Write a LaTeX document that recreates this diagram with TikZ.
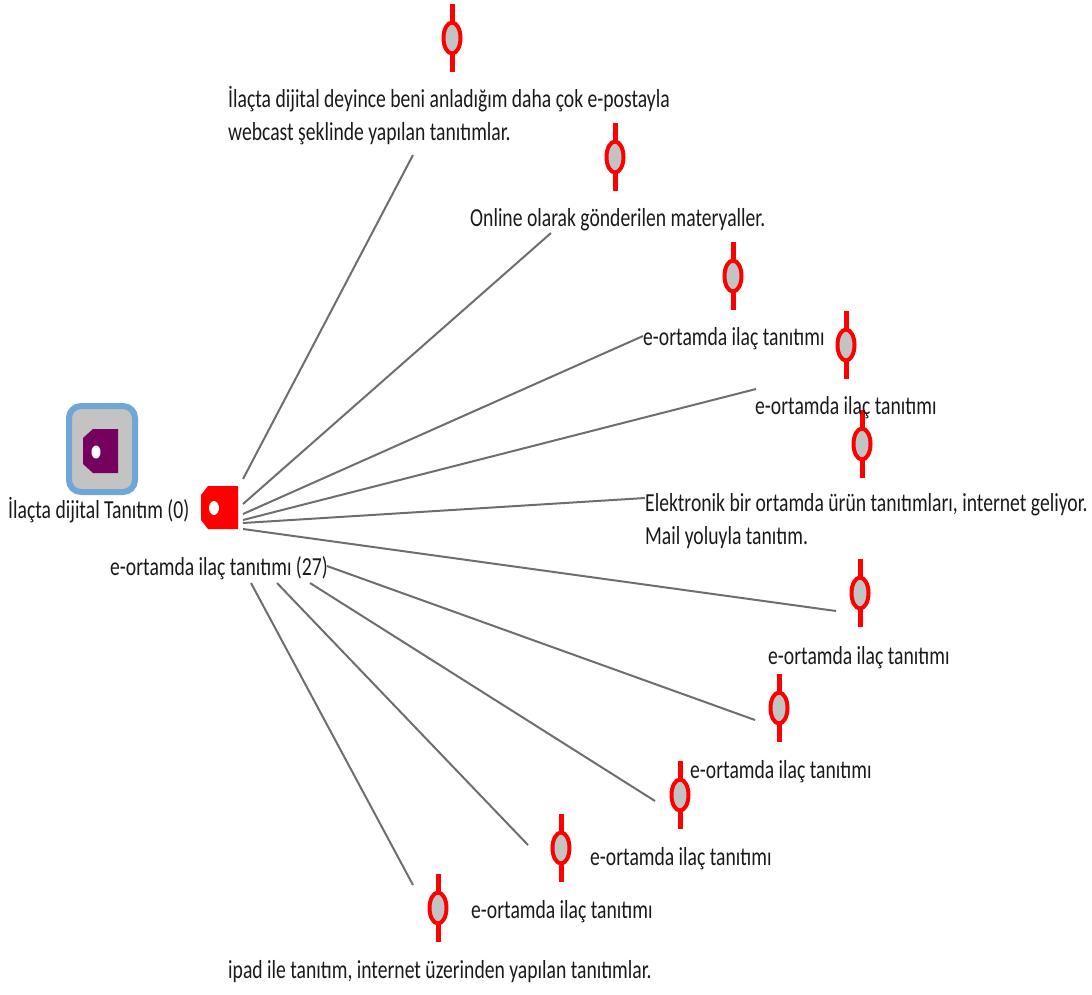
\documentclass[tikz,border=0pt]{standalone}
\usepackage{fontspec}
\setmainfont{Carlito}[FakeStretch=0.755]
\usetikzlibrary{shapes.geometric}
\definecolor{pinred}{HTML}{FF0000}
\definecolor{pingrey}{HTML}{C3C3C3}
\definecolor{linkgrey}{HTML}{6E6E6E}
\definecolor{framblue}{HTML}{6FA6D6}
\definecolor{tagpurple}{HTML}{76005E}
\definecolor{inkdark}{HTML}{1A1A1A}
\begin{document}
\begin{tikzpicture}[x=1pt,y=-1pt,
  lbl/.style={anchor=base west,inner sep=0pt,text=inkdark,
    font=\fontsize{26}{32.5}\selectfont,align=left},
  conn/.style={draw=linkgrey,line width=2pt},
  pinhead/.style={ellipse,draw=pinred,fill=pingrey,line width=4pt,
    minimum width=17pt,minimum height=31pt,inner sep=0pt},
  pinstem/.style={draw=pinred,line width=5pt}]
\useasboundingbox (0,0) rectangle (1092,994);

% connectors (drawn first so the hub label covers their ends)
\coordinate (s1) at (243,479);  \coordinate (e1) at (413,155);
\coordinate (s2) at (243,504);  \coordinate (e2) at (551,233);
\coordinate (s3) at (243,514);  \coordinate (e3) at (643,336);
\coordinate (s4) at (243,520);  \coordinate (e4) at (756,389);
\coordinate (s5) at (243,523);  \coordinate (e5) at (645,498);
\coordinate (s6) at (243,529);  \coordinate (e6) at (836,611);
\coordinate (s7) at (327,566);  \coordinate (e7) at (755,720);
\coordinate (s8) at (310,583);  \coordinate (e8) at (655,801);
\coordinate (s9) at (277,583);  \coordinate (e9) at (528,845);
\coordinate (s10) at (251,583); \coordinate (e10) at (413,885);
\foreach \i in {1,...,10} \draw[conn] (s\i) -- (e\i);

% category icon on the left
\node[draw=framblue,line width=6pt,fill=pingrey,rounded corners=12pt,
  minimum width=66pt,minimum height=86pt,inner sep=0pt] (cat) at (102,449) {};
\fill[tagpurple] (93,429) -- (118,429) -- (118,473) -- (93,473)
  -- (83,464) -- (83,438) -- cycle;
\fill[white] (96,452) ellipse [x radius=4.5pt,y radius=6.5pt];
\node[lbl] (catlbl) at (8,518) {İlaçta dijital Tanıtım (0)};

% hub tag
\node[inner sep=0pt,minimum width=37pt,minimum height=43pt] (hub) at (219.5,507.5) {};
\fill[pinred] (208,486) -- (238,486) -- (238,529) -- (208,529)
  -- (201,520) -- (201,495) -- cycle;
\fill[white] (214,508) ellipse [x radius=5pt,y radius=7pt];
\node[lbl] (hublbl) at (110,575) {e-ortamda ilaç tanıtımı (27)};

% pins
\foreach \n/\x/\y in {p1/452/38, p2/615/157, p3/733/276, p4/846/345,
    p5/862/444, p6/860/593, p7/779/708, p8/680/795, p9/561/848, p10/438/908} {
  \draw[pinstem] (\x,\y-34) -- (\x,\y+34);
  \node[pinhead] (\n) at (\x,\y) {};
}

% pin labels (multi-line labels are placed by their last baseline)
\node[lbl] (t1) at (228,140) {İlaçta dijital deyince beni anladığım daha çok e-postayla\\webcast şeklinde yapılan tanıtımlar.};
\node[lbl] (t2) at (470,226) {Online olarak gönderilen materyaller.};
\node[lbl] (t3) at (643,345) {e-ortamda ilaç tanıtımı};
\node[lbl] (t4) at (755,414) {e-ortamda ilaç tanıtımı};
\node[lbl] (t5) at (645,544) {Elektronik bir ortamda ürün tanıtımları, internet geliyor.\\Mail yoluyla tanıtım.};
\node[lbl] (t6) at (768,664) {e-ortamda ilaç tanıtımı};
\node[lbl] (t7) at (690,778) {e-ortamda ilaç tanıtımı};
\node[lbl] (t8) at (590,865) {e-ortamda ilaç tanıtımı};
\node[lbl] (t9) at (471,918) {e-ortamda ilaç tanıtımı};
\node[lbl] (t10) at (228,978) {ipad ile tanıtım, internet üzerinden yapılan tanıtımlar.};
\end{tikzpicture}
\end{document}
